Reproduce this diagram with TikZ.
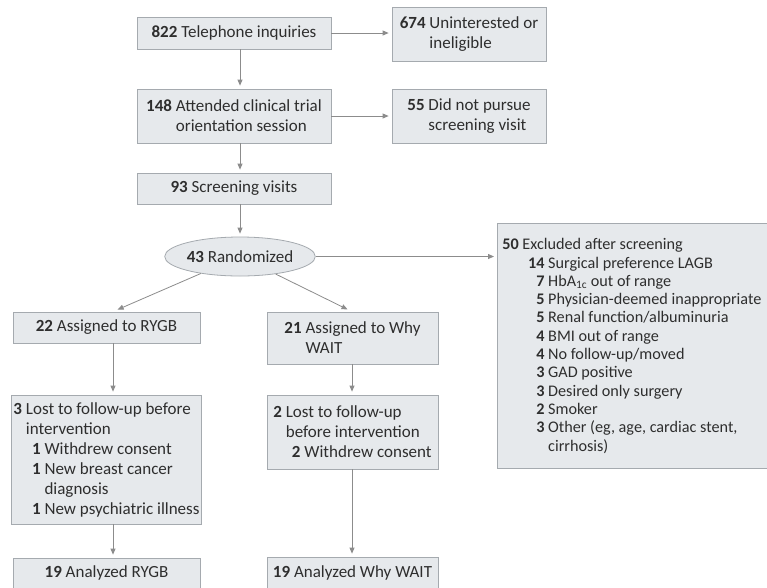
\documentclass[tikz,border=0pt]{standalone}
\usepackage{fontspec}
\setmainfont{Carlito}
\usetikzlibrary{shapes.geometric,arrows.meta,positioning}

\definecolor{boxfill}{HTML}{E6E9EC}
\definecolor{boxline}{HTML}{A5AAAF}
\definecolor{arrowgray}{HTML}{8C8C8C}
\definecolor{txtgray}{HTML}{2E2E2E}

\newcommand\cnt[1]{\textbf{#1}}
\newcommand\hang[1]{\hphantom{\cnt{#1}\ }}
\newcommand\reason[3]{\hspace*{#1}\makebox[1.2em][r]{\cnt{#2}}\ #3}

\begin{document}
\begin{tikzpicture}[x=1pt, y=-1pt,
        box/.style = {draw=boxline, fill=boxfill, line width=0.8pt, align=left,
                      inner xsep=2pt, inner ysep=2pt, text=txtgray,
                      font=\fontsize{17}{20}\selectfont},
        oval/.style = {box, ellipse, inner sep=0pt},
        arrow/.style = {draw=arrowgray, line width=0.8pt,
                        -{Triangle[length=6pt,width=5pt]}, shorten >= 3pt}
        ]
        \clip (0,0) rectangle (767,587);
        \fill[white] (0,0) rectangle (767,587);

        % column axes of the arrows
        \coordinate (cL) at (113,0);
        \coordinate (cM) at (240,0);
        \coordinate (cR) at (352,0);

        % enrollment
        \node[box, minimum width=194, minimum height=32] (tel) at (234,33) {\cnt{822} Telephone inquiries};
        \node[box, minimum width=194, minimum height=54] (att) at (234,116)
            {\cnt{148} Attended clinical trial\\\hang{148}orientation session};
        \node[box, minimum width=194, minimum height=31] (scr) at (234,188.5) {\cnt{93} Screening visits};
        \node[oval, minimum width=146, minimum height=39] (rand) at (240,256.5) {\cnt{43} Randomized};

        \node[box, minimum width=154, minimum height=54] (uni) at (469,34)
            {\cnt{674} Uninterested or\\\hang{674}ineligible};
        \node[box, minimum width=154, minimum height=54] (nop) at (469,116)
            {\cnt{55} Did not pursue\\\hang{55}screening visit};
        \node[box, anchor=north west, minimum height=245, inner xsep=5pt, text width=285, align=flush left, % runs past the page edge
              font=\fontsize{16.2}{18.3}\selectfont] (exc) at (497,223)
            {\cnt{50} Excluded after screening\\
             \reason{1.4em}{14}{Surgical preference LAGB}\\
             \reason{1.4em}{7}{HbA\textsubscript{1c} out of range}\\
             \reason{1.4em}{5}{Physician-deemed inappropriate}\\
             \reason{1.4em}{5}{Renal function/albuminuria}\\
             \reason{1.4em}{4}{BMI out of range}\\
             \reason{1.4em}{4}{No follow-up/moved}\\
             \reason{1.4em}{3}{GAD positive}\\
             \reason{1.4em}{3}{Desired only surgery}\\
             \reason{1.4em}{2}{Smoker}\\
             \reason{1.4em}{3}{Other (eg, age, cardiac stent,}\\
             \reason{1.4em}{}{cirrhosis)}};

        % allocation
        \node[box, minimum width=187, minimum height=31] (ryg) at (106.5,327.5) {\cnt{22} Assigned to RYGB};
        \node[box, minimum width=171, minimum height=52] (wai) at (352.5,338)
            {\cnt{21} Assigned to Why\\\hang{21}WAIT};

        % follow-up
        \node[box, minimum width=187, minimum height=129] (lr) at (106.5,459.5)
            {\cnt{3} Lost to follow-up before\\\hang{3}intervention\\
             \reason{0.4em}{1}{Withdrew consent}\\
             \reason{0.4em}{1}{New breast cancer}\\
             \reason{0.4em}{}{diagnosis}\\
             \reason{0.4em}{1}{New psychiatric illness}};
        \node[box, minimum width=171, minimum height=74] (lw) at (352.5,432)
            {\cnt{2} Lost to follow-up\\\hang{2}before intervention\\
             \reason{0.4em}{2}{Withdrew consent}};

        % analysis
        \node[box, minimum width=187, minimum height=30] (ar) at (106.5,573) {\cnt{19} Analyzed RYGB};
        \node[box, minimum width=171, minimum height=32] (aw) at (352.5,573) {\cnt{19} Analyzed Why WAIT};

        \draw[arrow] (tel.south -| cM) -- (att.north -| cM);
        \draw[arrow] (att.south -| cM) -- (scr.north -| cM);
        \draw[arrow] (scr.south -| cM) -- (rand.north -| cM);
        \draw[arrow] (tel.east) -- (tel.east -| uni.west);
        \draw[arrow] (att.east) -- (att.east -| nop.west);
        \draw[arrow] (rand.east) -- (rand.east -| exc.west);
        \draw[arrow, shorten >= 5pt] (rand) -- (ryg.north -| cL);
        \draw[arrow, shorten >= 5pt] (rand) -- (wai.north -| cR);
        \draw[arrow] (ryg.south -| cL) -- (lr.north -| cL);
        \draw[arrow] (lr.south -| cL) -- (ar.north -| cL);
        \draw[arrow] (wai.south -| cR) -- (lw.north -| cR);
        \draw[arrow] (lw.south -| cR) -- (aw.north -| cR);
    \end{tikzpicture}
\end{document}
